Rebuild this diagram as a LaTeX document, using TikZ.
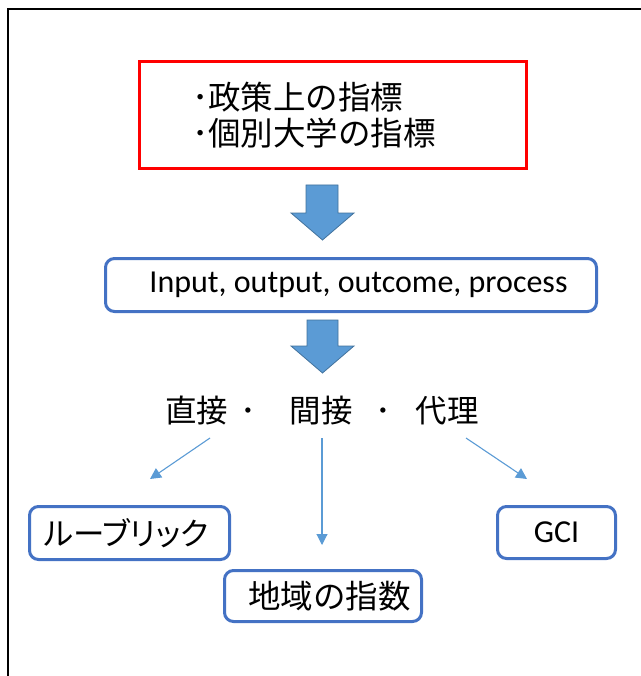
\documentclass[tikz,border=0pt]{standalone}
\usepackage{fontspec}
\newfontfamily\jp{Noto Sans CJK JP}
\newfontfamily\jpp[RawFeature=+palt]{Noto Sans CJK JP}
\newfontfamily\lat{Carlito}
\usetikzlibrary{arrows.meta}
\definecolor{boxblue}{HTML}{4472C4}
\definecolor{arrblue}{HTML}{5B9BD5}
\definecolor{arredge}{HTML}{41719C}
\definecolor{boxred}{HTML}{FF0000}
\tikzset{
  bluebox/.style={draw=boxblue, line width=3pt, rounded corners=9pt, fill=white, inner sep=0pt},
  bigarrow/.style={fill=arrblue, draw=arredge, line width=0.8pt, line join=miter},
  thinarrow/.style={draw=arrblue, line width=1.1pt, -{Triangle[length=11pt,width=11pt]}},
  jptext/.style={font=\jp\fontsize{31.5}{36}\selectfont, inner sep=0pt}
}
\begin{document}
\begin{tikzpicture}[x=1pt,y=-1pt]
\useasboundingbox (0,0) rectangle (640,676);
% frame
\draw[line width=2pt] (8,677) -- (8,9) -- (641,9);
% red box
\node[draw=boxred, line width=3.2pt, minimum width=387pt, minimum height=107pt, inner sep=0pt] (redbox) at (333,115) {};
\node[inner sep=0pt, anchor=west, align=left, font=\jp\fontsize{32.5}{36}\selectfont] (redtext) at (192,115) {･政策上の指標\\･個別大学の指標};
% big arrow 1
\draw[bigarrow] (306,185) -- (338,185) -- (338,213) -- (354,213) -- (322.5,240) -- (291,213) -- (306,213) -- cycle;
% input box
\node[bluebox, minimum width=491pt, minimum height=53pt] (inputbox) at (351,285) {\hspace*{15pt}{\lat\fontsize{32}{36}\selectfont Input, output, outcome, process}};
% big arrow 2
\draw[bigarrow] (307,320) -- (338,320) -- (338,346) -- (354,346) -- (322.5,373) -- (291,346) -- (307,346) -- cycle;
% middle label
\node[jptext, anchor=west] (kinds) at (165,411) {直接\hspace{12pt}･\hspace{34pt}間接\hspace{23pt}･\hspace{24pt}代理};
% thin arrows
\coordinate (s1) at (210,438);
\coordinate (e1) at (150,479);
\coordinate (s2) at (322,438);
\coordinate (e2) at (322,545);
\coordinate (s3) at (466,438);
\coordinate (e3) at (527,479);
\draw[thinarrow] (s1) -- (e1);
\draw[thinarrow] (s2) -- (e2);
\draw[thinarrow] (s3) -- (e3);
% boxes
\node[bluebox, minimum width=200pt, minimum height=53pt] (rubric) at (129.5,533) {\hspace*{-6pt}{\jpp\fontsize{31.5}{36}\selectfont ルーブリック}};
\node[bluebox, minimum width=197pt, minimum height=51pt] (chiiki) at (323,596) {\hspace*{13pt}{\jp\fontsize{32.5}{36}\selectfont 地域の指数}};
\node[bluebox, minimum width=118pt, minimum height=52pt] (gci) at (556.5,532.5) {{\lat\fontsize{32}{36}\selectfont GCI}};
\end{tikzpicture}
\end{document}
